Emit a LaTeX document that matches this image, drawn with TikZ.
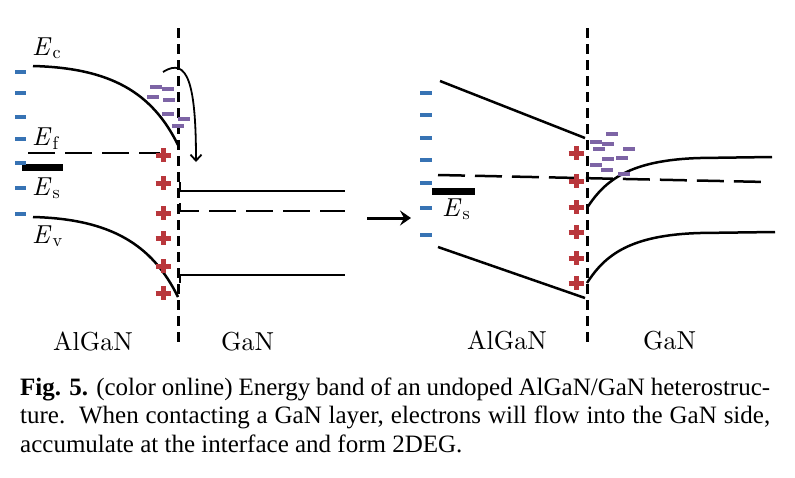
\documentclass[tikz,border=0pt]{standalone}
\usepackage{fontspec}
\newfontfamily\capfont{Liberation Serif}
\newfontfamily\lblfont{lmroman10-regular.otf}[ItalicFont=lmroman10-italic.otf]
\usetikzlibrary{arrows.meta}
\definecolor{holeblue}{RGB}{55,115,180}
\definecolor{elecpurple}{RGB}{125,100,165}
\definecolor{donorred}{RGB}{185,55,60}
\newcommand{\bandE}[1]{\textit{E}\kern1pt\textsubscript{#1}}

\begin{document}
\begin{tikzpicture}[
    x=1pt, y=-1pt,
    band/.style={line width=2.5pt},
    fermi/.style={line width=2.5pt, dash pattern=on 27pt off 10pt},
    iface/.style={line width=3pt, dash pattern=on 10pt off 6pt},
    surflevel/.style={line width=7pt},
    negsign/.style={line width=3.5pt, holeblue},
    elecsign/.style={line width=3.5pt, elecpurple},
    possign/.style={line width=5pt, donorred},
    lbl/.style={inner sep=0pt, anchor=base west,
        font=\lblfont\fontsize{26}{30}\selectfont},
    captext/.style={inner sep=0pt, anchor=base west,
        font=\capfont\fontsize{25}{28}\selectfont}
]
\useasboundingbox (0,0) rectangle (795,477);

% left panel: before contact
\draw[iface] (178,28) -- (178,345);
\draw[band] (33,66) .. controls (110,68) and (152,92) .. (178,145);
\draw[band] (33,217) .. controls (110,219) and (152,244) .. (178,297);
\draw[fermi] (28,153) -- (160,153);
\draw[surflevel] (22,167) -- (63,167);
\draw[band] (180,182) |- (345,191);
\draw[fermi] (180,203) |- (345,211);
\draw[band] (180,283) |- (345,275);

\foreach \y in {72,93,117,139,163,188,214}
  \draw[negsign] (15,\y) -- (26,\y);
\foreach \y in {155,183,213,238,266,293}
  \draw[possign] (155.5,\y) -- (170.5,\y) (163,\y-7) -- (163,\y+7);
\foreach \x/\y in {156/87,168/89,153/97,169/100,168/114,184/119,178/126}
  \draw[elecsign] (\x-6,\y) -- (\x+6,\y);

\coordinate (flowstart) at (163,72);
\coordinate (flowend) at (196,162);
\draw[line width=1.8pt, -{Straight Barb[length=6pt,width=11pt]}]
  (flowstart) .. controls (188,56) and (196,85) .. (flowend);

\node[lbl] (ec) at (32,55) {\bandE{c}};
\node[lbl] (ef) at (32,145) {\bandE{f}};
\node[lbl] (es) at (32,195) {\bandE{s}};
\node[lbl] (ev) at (32,243) {\bandE{v}};
\node[lbl] (algan1) at (53,350) {AlGaN};
\node[lbl] (gan1) at (221,350) {GaN};

% arrow between panels
\coordinate (before) at (367,218);
\coordinate (after) at (411,218);
\draw[line width=3pt, -{Stealth[length=11pt,width=15pt,inset=4pt]}]
  (before) -- (after);

% right panel: after contact
\draw[iface] (587,28) -- (587,345);
\draw[band] (440,81) -- (585,138);
\draw[band] (438,247) -- (585,298);
\draw[fermi] (438,175) -- (767,182);
\draw[surflevel] (432,191) -- (475,191);
\draw[band] (587,208) .. controls (605,180) and (630,160) .. (700,158) -- (772,157);
\draw[band] (587,283) .. controls (605,255) and (630,235) .. (700,233) -- (775,232);

\foreach \y in {93,115,138,160,183,208,235}
  \draw[negsign] (420,\y) -- (432,\y);
\foreach \y in {153,181,207,232,258,283}
  \draw[possign] (568.5,\y) -- (583.5,\y) (576,\y-7) -- (576,\y+7);
\foreach \x/\y in {612/134,596/142,608/144,599/149,629/149,
                   608/159,622/158,596/165,607/170,624/174}
  \draw[elecsign] (\x-6,\y) -- (\x+6,\y);

\node[lbl] (es2) at (442,216) {\bandE{s}};
\node[lbl] (algan2) at (467,349) {AlGaN};
\node[lbl] (gan2) at (643,349) {GaN};

% caption
\node[captext] (capa) at (20,395) {\makebox[750pt][s]{\textbf{Fig. 5.} (color online) Energy band of an undoped AlGaN/GaN heterostruc-}};
\node[captext] (capb) at (20,423) {\makebox[750pt][s]{ture.\ \ When contacting a GaN layer, electrons will flow into the GaN side,}};
\node[captext] (capc) at (20,452) {accumulate at the interface and form 2DEG.};
\end{tikzpicture}
\end{document}
